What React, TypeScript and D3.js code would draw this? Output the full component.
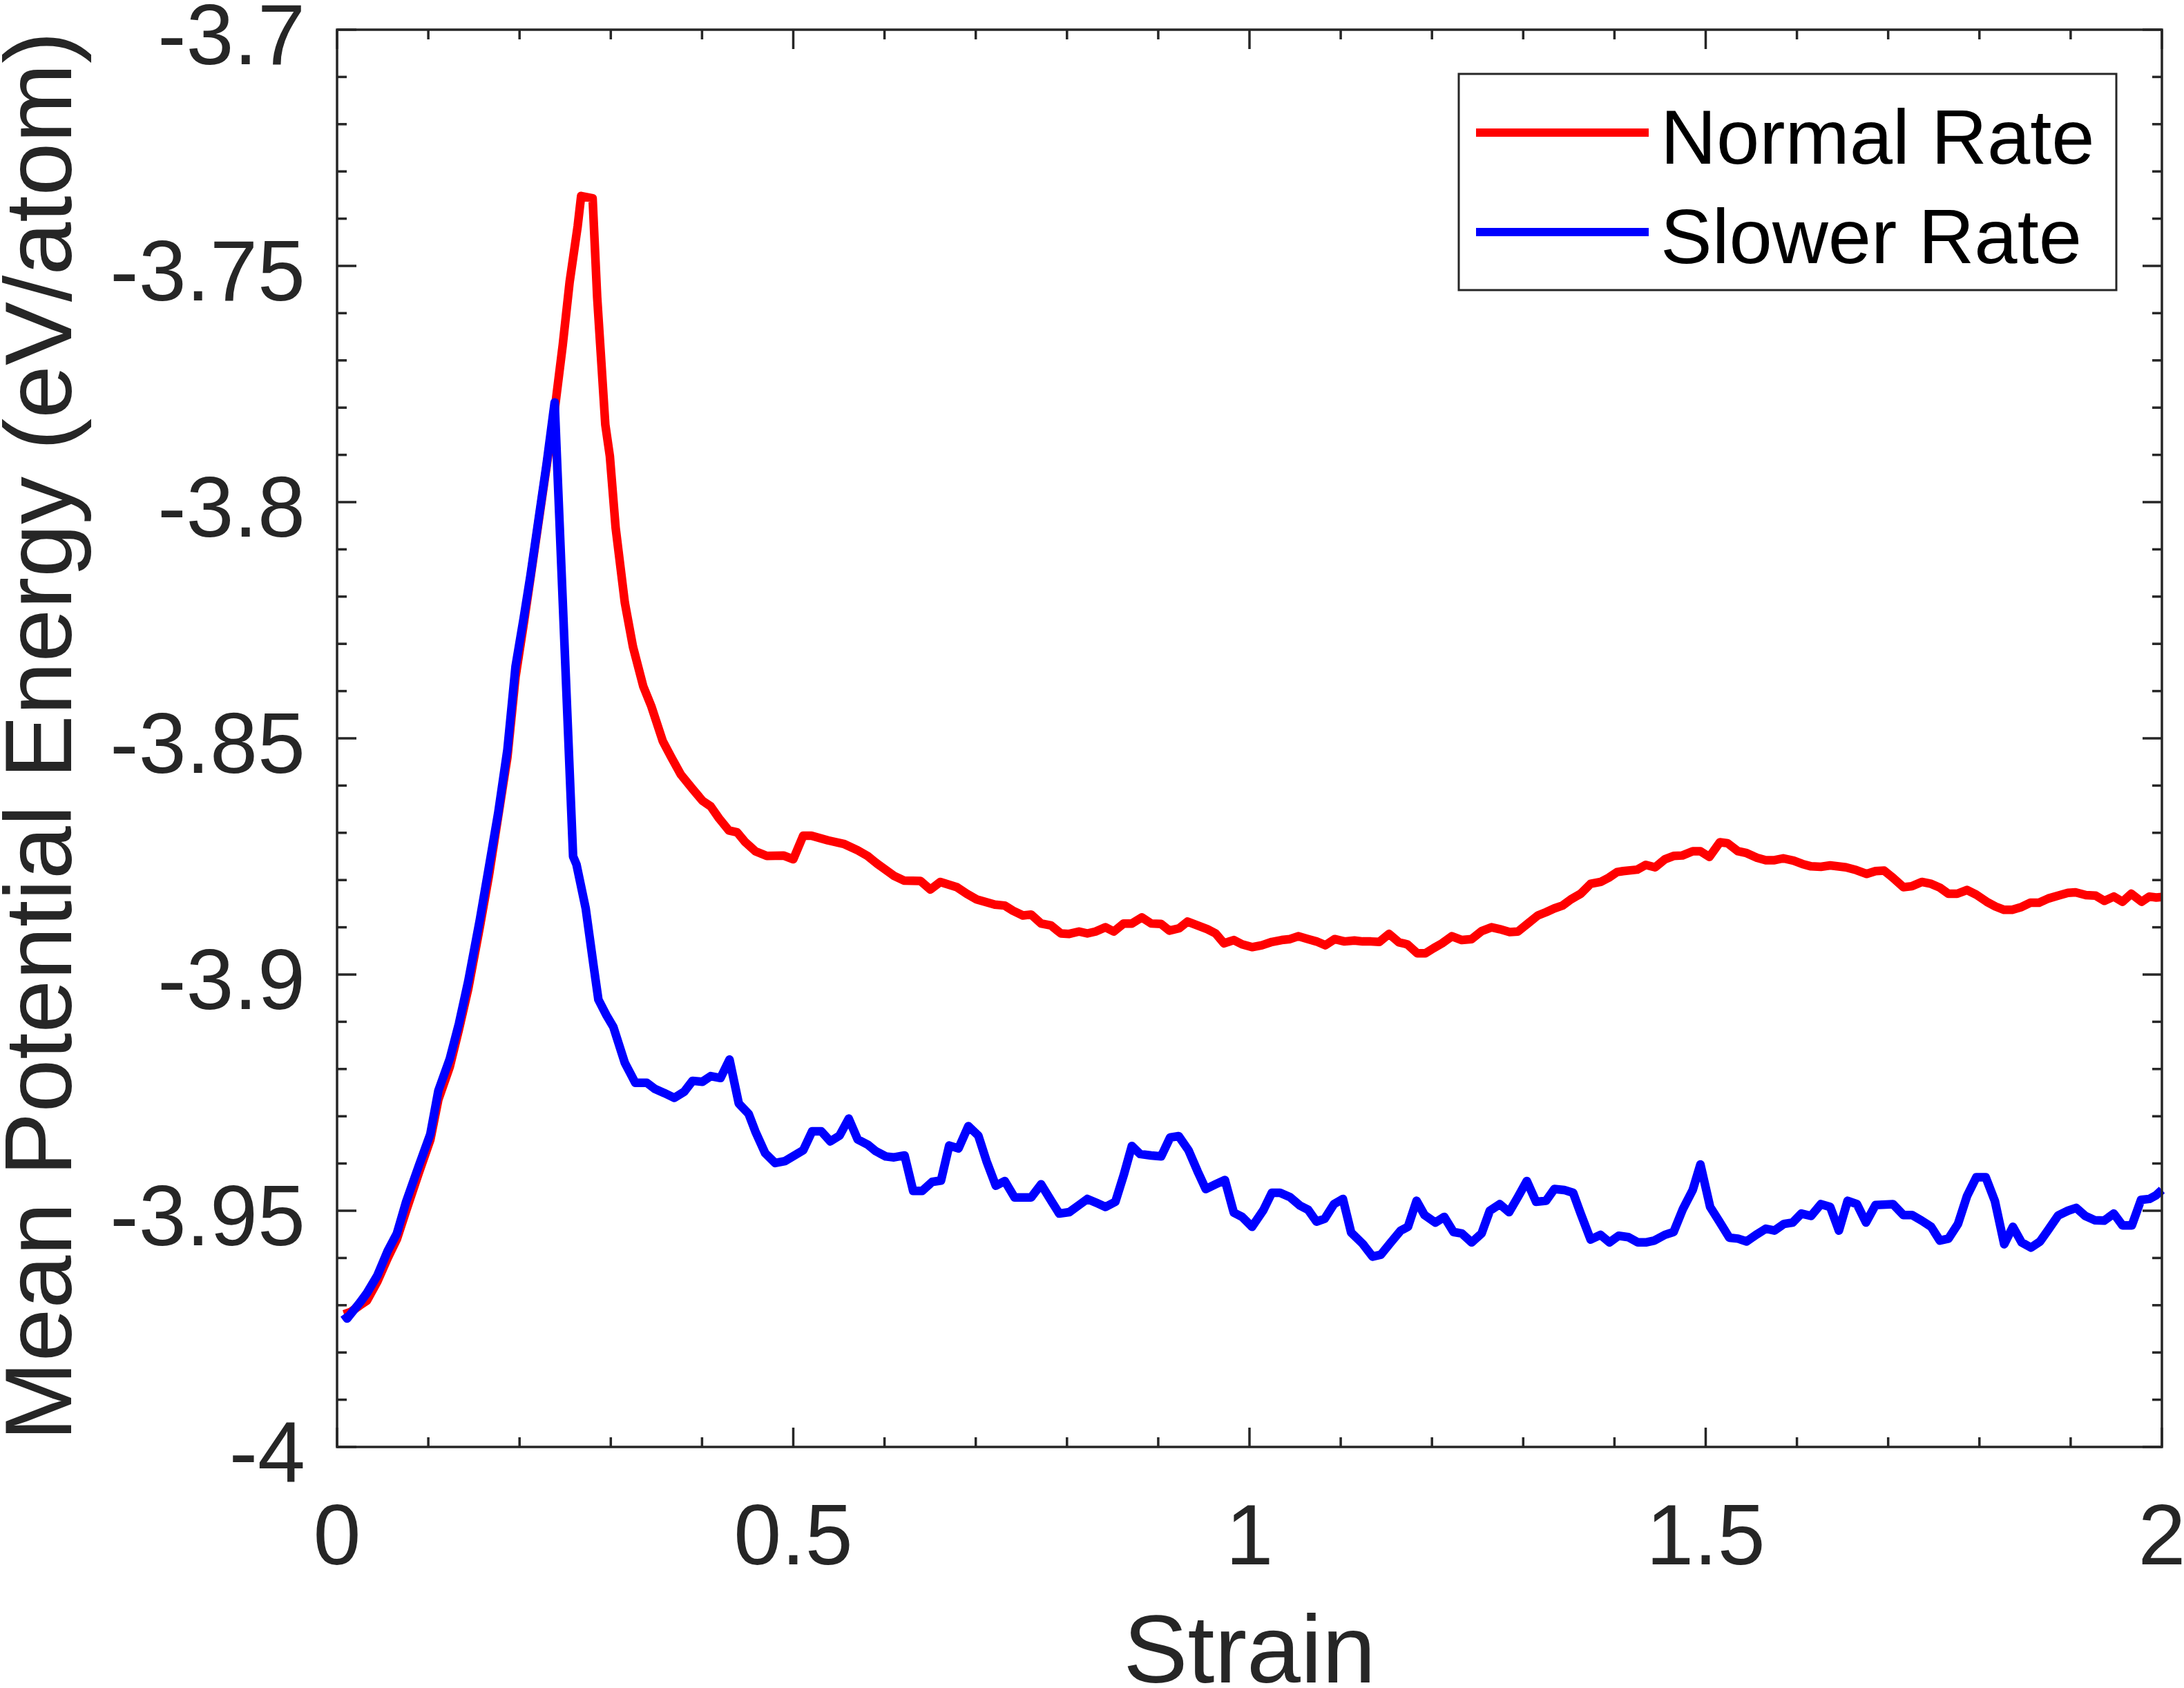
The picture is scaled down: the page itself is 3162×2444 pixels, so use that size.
import React from "react";
import * as d3 from "d3";

const normalStrain = [0.0076,0.0151,0.0252,0.0328,0.0442,0.0555,0.0656,0.0757,0.0896,0.1022,0.1110,0.1236,0.1337,0.1438,0.1564,0.1665,0.1766,0.1867,0.1956,0.2044,0.2120,0.2221,0.2296,0.2385,0.2473,0.2549,0.2637,0.2675,0.2801,0.2851,0.2940,0.2990,0.3053,0.3154,0.3243,0.3356,0.3444,0.3570,0.3660,0.3769,0.3896,0.4004,0.4095,0.4185,0.4294,0.4385,0.4475,0.4584,0.4710,0.4892,0.5000,0.5109,0.5199,0.5380,0.5561,0.5706,0.5815,0.5923,0.6104,0.6213,0.6394,0.6503,0.6611,0.6793,0.6901,0.7010,0.7209,0.7317,0.7408,0.7517,0.7607,0.7716,0.7824,0.7933,0.8024,0.8132,0.8223,0.8313,0.8422,0.8513,0.8621,0.8711,0.8820,0.8923,0.9032,0.9122,0.9231,0.9321,0.9430,0.9539,0.9629,0.9720,0.9828,0.9919,1.0028,1.0136,1.0245,1.0353,1.0444,1.0534,1.0643,1.0734,1.0831,1.0933,1.1041,1.1150,1.1241,1.1331,1.1422,1.1530,1.1639,1.1729,1.1838,1.1928,1.2019,1.2110,1.2218,1.2327,1.2435,1.2544,1.2653,1.2743,1.2852,1.2942,1.3051,1.3160,1.3250,1.3341,1.3431,1.3522,1.3630,1.3739,1.3848,1.3938,1.4029,1.4095,1.4248,1.4343,1.4446,1.4553,1.4648,1.4744,1.4858,1.4942,1.5041,1.5156,1.5240,1.5354,1.5449,1.5564,1.5659,1.5754,1.5850,1.5964,1.6060,1.6155,1.6262,1.6365,1.6537,1.6651,1.6765,1.6861,1.6956,1.7052,1.7166,1.7261,1.7368,1.7471,1.7566,1.7661,1.7757,1.7864,1.7966,1.8081,1.8176,1.8271,1.8359,1.8462,1.8557,1.8653,1.8756,1.8863,1.8970,1.9053,1.9168,1.9275,1.9370,1.9473,1.9568,1.9664,1.9778,1.9862,1.9938,2.0000];
const normalEnergy = [-3.9719,-3.9714,-3.9700,-3.9690,-3.9650,-3.9600,-3.9560,-3.9500,-3.9420,-3.9350,-3.9265,-3.9195,-3.9115,-3.9030,-3.8900,-3.8790,-3.8665,-3.8540,-3.8370,-3.8260,-3.8160,-3.8025,-3.7925,-3.7805,-3.7668,-3.7534,-3.7416,-3.7352,-3.7357,-3.7567,-3.7836,-3.7903,-3.8054,-3.8213,-3.8306,-3.8390,-3.8432,-3.8506,-3.8539,-3.8577,-3.8607,-3.8632,-3.8644,-3.8669,-3.8695,-3.8699,-3.8720,-3.8739,-3.8749,-3.8748,-3.8756,-3.8706,-3.8706,-3.8716,-3.8724,-3.8737,-3.8749,-3.8766,-3.8791,-3.8801,-3.8802,-3.8820,-3.8804,-3.8815,-3.8829,-3.8841,-3.8852,-3.8854,-3.8865,-3.8875,-3.8873,-3.8892,-3.8896,-3.8913,-3.8914,-3.8909,-3.8913,-3.8909,-3.8900,-3.8909,-3.8892,-3.8892,-3.8879,-3.8892,-3.8893,-3.8907,-3.8902,-3.8888,-3.8896,-3.8904,-3.8913,-3.8934,-3.8927,-3.8936,-3.8942,-3.8938,-3.8931,-3.8927,-3.8925,-3.8919,-3.8925,-3.8930,-3.8938,-3.8925,-3.8930,-3.8928,-3.8930,-3.8930,-3.8931,-3.8914,-3.8932,-3.8936,-3.8955,-3.8955,-3.8944,-3.8934,-3.8919,-3.8927,-3.8925,-3.8908,-3.8900,-3.8904,-3.8910,-3.8909,-3.8892,-3.8875,-3.8868,-3.8860,-3.8854,-3.8841,-3.8829,-3.8808,-3.8804,-3.8795,-3.8783,-3.8781,-3.8778,-3.8768,-3.8773,-3.8756,-3.8749,-3.8748,-3.8739,-3.8739,-3.8751,-3.8720,-3.8722,-3.8739,-3.8743,-3.8753,-3.8758,-3.8758,-3.8754,-3.8759,-3.8766,-3.8771,-3.8772,-3.8769,-3.8773,-3.8779,-3.8787,-3.8781,-3.8780,-3.8795,-3.8815,-3.8813,-3.8804,-3.8808,-3.8816,-3.8829,-3.8829,-3.8821,-3.8831,-3.8846,-3.8856,-3.8863,-3.8863,-3.8857,-3.8848,-3.8848,-3.8839,-3.8833,-3.8827,-3.8826,-3.8832,-3.8833,-3.8844,-3.8835,-3.8846,-3.8829,-3.8846,-3.8835,-3.8837,-3.8836];

const slowerStrain = [0.0076,0.0110,0.0252,0.0328,0.0442,0.0555,0.0656,0.0757,0.0896,0.1022,0.1110,0.1236,0.1337,0.1438,0.1564,0.1665,0.1766,0.1867,0.1956,0.2044,0.2120,0.2221,0.2296,0.2385,0.2486,0.2587,0.2624,0.2725,0.2814,0.2864,0.2952,0.3028,0.3154,0.3268,0.3394,0.3482,0.3588,0.3697,0.3805,0.3896,0.4004,0.4095,0.4203,0.4301,0.4403,0.4511,0.4584,0.4692,0.4801,0.4909,0.5109,0.5206,0.5308,0.5406,0.5507,0.5608,0.5706,0.5815,0.5905,0.6014,0.6104,0.6220,0.6314,0.6412,0.6521,0.6619,0.6709,0.6811,0.6919,0.7028,0.7118,0.7220,0.7318,0.7426,0.7607,0.7716,0.7824,0.7915,0.8024,0.8132,0.8223,0.8331,0.8422,0.8530,0.8621,0.8711,0.8802,0.8923,0.9032,0.9130,0.9224,0.9332,0.9430,0.9521,0.9629,0.9731,0.9828,0.9919,1.0028,1.0154,1.0245,1.0335,1.0444,1.0553,1.0643,1.0734,1.0824,1.0926,1.1024,1.1114,1.1241,1.1349,1.1440,1.1549,1.1657,1.1737,1.1831,1.1918,1.2037,1.2135,1.2236,1.2327,1.2435,1.2544,1.2634,1.2743,1.2845,1.2942,1.3040,1.3141,1.3250,1.3341,1.3449,1.3547,1.3630,1.3739,1.3848,1.3945,1.4046,1.4153,1.4256,1.4343,1.4439,1.4553,1.4648,1.4751,1.4858,1.4942,1.5049,1.5144,1.5259,1.5354,1.5449,1.5552,1.5659,1.5754,1.5857,1.5953,1.6048,1.6155,1.6262,1.6365,1.6460,1.6555,1.6658,1.6757,1.6861,1.7052,1.7166,1.7261,1.7368,1.7471,1.7566,1.7661,1.7765,1.7864,1.7966,1.8069,1.8169,1.8272,1.8367,1.8462,1.8565,1.8665,1.8756,1.8863,1.8970,1.9061,1.9160,1.9263,1.9366,1.9473,1.9568,1.9671,1.9771,1.9862,1.9938,2.0000];
const slowerEnergy = [-3.9719,-3.9728,-3.9694,-3.9674,-3.9637,-3.9585,-3.9548,-3.9481,-3.9405,-3.9338,-3.9246,-3.9178,-3.9103,-3.9014,-3.8885,-3.8772,-3.8658,-3.8524,-3.8348,-3.8247,-3.8155,-3.8020,-3.7920,-3.7789,-3.8270,-3.8750,-3.8767,-3.8860,-3.8985,-3.9053,-3.9086,-3.9111,-3.9187,-3.9229,-3.9229,-3.9242,-3.9251,-3.9261,-3.9248,-3.9225,-3.9227,-3.9215,-3.9219,-3.9180,-3.9273,-3.9295,-3.9332,-3.9378,-3.9399,-3.9395,-3.9372,-3.9332,-3.9332,-3.9353,-3.9341,-3.9305,-3.9349,-3.9360,-3.9374,-3.9385,-3.9387,-3.9383,-3.9458,-3.9458,-3.9439,-3.9436,-3.9362,-3.9368,-3.9321,-3.9341,-3.9395,-3.9447,-3.9437,-3.9472,-3.9472,-3.9444,-3.9478,-3.9506,-3.9503,-3.9488,-3.9475,-3.9484,-3.9492,-3.9481,-3.9425,-3.9363,-3.9380,-3.9383,-3.9385,-3.9345,-3.9342,-3.9372,-3.9416,-3.9454,-3.9444,-3.9435,-3.9504,-3.9513,-3.9534,-3.9498,-3.9462,-3.9462,-3.9471,-3.9489,-3.9498,-3.9523,-3.9517,-3.9486,-3.9475,-3.9546,-3.9570,-3.9597,-3.9593,-3.9567,-3.9542,-3.9534,-3.9479,-3.9509,-3.9525,-3.9513,-3.9545,-3.9548,-3.9567,-3.9548,-3.9500,-3.9486,-3.9503,-3.9471,-3.9437,-3.9481,-3.9479,-3.9454,-3.9456,-3.9462,-3.9506,-3.9561,-3.9551,-3.9567,-3.9553,-3.9556,-3.9567,-3.9567,-3.9563,-3.9551,-3.9545,-3.9496,-3.9456,-3.9402,-3.9492,-3.9521,-3.9557,-3.9559,-3.9565,-3.9551,-3.9538,-3.9542,-3.9528,-3.9525,-3.9506,-3.9511,-3.9486,-3.9492,-3.9542,-3.9479,-3.9486,-3.9525,-3.9488,-3.9486,-3.9509,-3.9509,-3.9521,-3.9534,-3.9563,-3.9559,-3.9528,-3.9469,-3.9429,-3.9429,-3.9479,-3.9571,-3.9534,-3.9567,-3.9578,-3.9565,-3.9540,-3.9510,-3.9500,-3.9494,-3.9511,-3.9520,-3.9521,-3.9506,-3.9531,-3.9531,-3.9477,-3.9475,-3.9467,-3.9456];

const xTickValues = [0, 0.5, 1, 1.5, 2];
const xTickLabels = ["0", "0.5", "1", "1.5", "2"];
const yTickValues = [-4, -3.95, -3.9, -3.85, -3.8, -3.75, -3.7];
const yTickLabels = ["-4", "-3.95", "-3.9", "-3.85", "-3.8", "-3.75", "-3.7"];
const seriesNames = ["Normal Rate", "Slower Rate"];
const seriesColors = ["#ff0000", "#0000ff"];
const xTitle = "Strain";
const yTitle = "Mean Potential Energy (eV/atom)";

const W = 3162;
const H = 2444;
const L = 488, R = 3130, T = 43, B = 2095;
const FONT = "'Liberation Sans', Arial, Helvetica, sans-serif";
const AX = "#262626";

export default function App() {
  const x = d3.scaleLinear().domain([0, 2]).range([L, R]);
  const y = d3.scaleLinear().domain([-4, -3.7]).range([B, T]);
  const line = d3.line<[number, number]>().x(d => x(d[0])).y(d => y(d[1]));
  const normalPts: [number, number][] = normalStrain.map((s, i) => [s, normalEnergy[i]]);
  const slowerPts: [number, number][] = slowerStrain.map((s, i) => [s, slowerEnergy[i]]);

  const xMinor = d3.range(0, 21).map(i => i / 10).filter(v => Math.abs(v * 2 - Math.round(v * 2)) > 1e-6);
  const yMinor = d3.range(0, 31).map(i => -4 + i / 100).filter(v => {
    const k = (v + 4) / 0.05;
    return Math.abs(k - Math.round(k)) > 1e-6;
  });
  const major = 28, minor = 14;
  const ticks: JSX.Element[] = [];
  xTickValues.forEach((v, i) => {
    const px = x(v);
    ticks.push(<line key={"xb" + i} x1={px} x2={px} y1={B} y2={B - major} stroke={AX} strokeWidth={3.5} />);
    ticks.push(<line key={"xt" + i} x1={px} x2={px} y1={T} y2={T + major} stroke={AX} strokeWidth={3.5} />);
  });
  xMinor.forEach((v, i) => {
    const px = x(v);
    ticks.push(<line key={"xbm" + i} x1={px} x2={px} y1={B} y2={B - minor} stroke={AX} strokeWidth={3.5} />);
    ticks.push(<line key={"xtm" + i} x1={px} x2={px} y1={T} y2={T + minor} stroke={AX} strokeWidth={3.5} />);
  });
  yTickValues.forEach((v, i) => {
    const py = y(v);
    ticks.push(<line key={"yl" + i} x1={L} x2={L + major} y1={py} y2={py} stroke={AX} strokeWidth={3.5} />);
    ticks.push(<line key={"yr" + i} x1={R} x2={R - major} y1={py} y2={py} stroke={AX} strokeWidth={3.5} />);
  });
  yMinor.forEach((v, i) => {
    const py = y(v);
    ticks.push(<line key={"ylm" + i} x1={L} x2={L + minor} y1={py} y2={py} stroke={AX} strokeWidth={3.5} />);
    ticks.push(<line key={"yrm" + i} x1={R} x2={R - minor} y1={py} y2={py} stroke={AX} strokeWidth={3.5} />);
  });

  return (
    <svg width={W} height={H} style={{ position: "absolute", left: 0, top: 0, background: "#fff" }} fontFamily={FONT}>
      <rect x={0} y={0} width={W} height={H} fill="#fff" />
      <path d={line(normalPts) || ""} fill="none" stroke={seriesColors[0]} strokeWidth={12.5} strokeLinejoin="round" />
      <path d={line(slowerPts) || ""} fill="none" stroke={seriesColors[1]} strokeWidth={12.5} strokeLinejoin="round" />
      {ticks}
      <rect x={L} y={T} width={R - L} height={B - T} fill="none" stroke={AX} strokeWidth={3.5} />
      {xTickValues.map((v, i) => (
        <text key={"xl" + i} x={x(v)} y={2265} textAnchor="middle" fontSize={124} fill={AX}>{xTickLabels[i]}</text>
      ))}
      {yTickValues.map((v, i) => (
        <text key={"yl" + i} x={442} y={y(v) + 50} textAnchor="end" fontSize={124} fill={AX}>{yTickLabels[i]}</text>
      ))}
      <text x={(L + R) / 2} y={2436} textAnchor="middle" fontSize={140} fill={AX}>{xTitle}</text>
      <text transform={`translate(103,1066) rotate(-90)`} textAnchor="middle" fontSize={138} fill={AX}>{yTitle}</text>
      <g>
        <rect x={2112} y={107} width={952} height={313} fill="#fff" stroke={AX} strokeWidth={3} />
        <line x1={2137} x2={2387} y1={192} y2={192} stroke={seriesColors[0]} strokeWidth={12} />
        <line x1={2137} x2={2387} y1={336} y2={336} stroke={seriesColors[1]} strokeWidth={12} />
        <text x={2404} y={237} fontSize={112} fill="#000">{seriesNames[0]}</text>
        <text x={2404} y={381} fontSize={112} fill="#000">{seriesNames[1]}</text>
      </g>
    </svg>
  );
}
